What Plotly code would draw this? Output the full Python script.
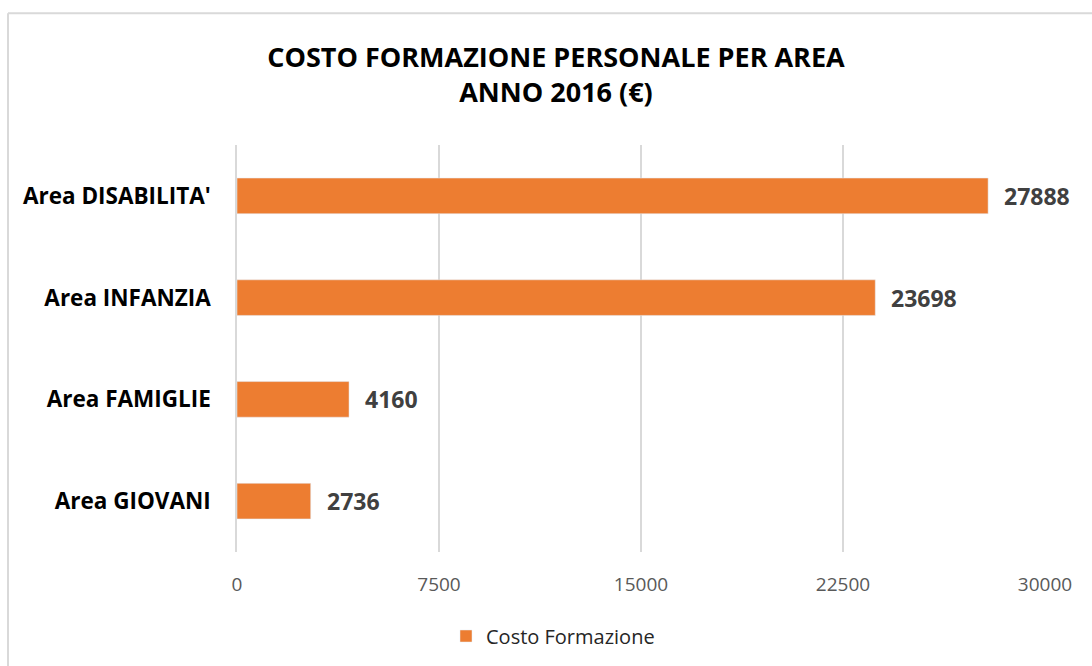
import plotly.graph_objects as go

categories = ["Area DISABILITA'", "Area INFANZIA", "Area FAMIGLIE", "Area GIOVANI"]
values = [27888, 23698, 4160, 2736]
tick_vals = [0, 7500, 15000, 22500, 30000]
tick_text = ["0", "7500", "15000", "22500", "30000"]
series_name = "Costo Formazione"

ML, MR, MT, MB = 237, 47, 145, 113
W, H = 1092, 666
pw, ph = W - ML - MR, H - MT - MB

fig = go.Figure()
fig.add_trace(go.Bar(
    y=categories, x=values, orientation="h", name=series_name,
    marker=dict(color="#ED7D31"), width=0.35, showlegend=True,
))
for c, v in zip(categories, values):
    fig.add_annotation(x=v, y=c, text=f"<b>{v}</b>", showarrow=False,
                       xanchor="left", xshift=14,
                       font=dict(family="Open Sans", size=23, color="#404040"))

fig.update_layout(
    width=W, height=H,
    margin=dict(l=ML, r=MR, t=MT, b=MB),
    paper_bgcolor="white", plot_bgcolor="white",
    title=dict(text="<b>COSTO FORMAZIONE PERSONALE PER AREA<br>ANNO 2016 (€)</b>",
               x=556 / W, xref="container", xanchor="center",
               y=1 - 67 / H, yref="container", yanchor="middle",
               font=dict(family="Open Sans", size=27, color="black")),
    xaxis=dict(range=[0, 30000], tickvals=tick_vals, ticktext=tick_text, showgrid=True,
               gridcolor="#d9d9d9", gridwidth=1.5, zeroline=False,
               ticklabelstandoff=19,
               tickfont=dict(family="Open Sans", size=19, color="#595959")),
    yaxis=dict(categoryorder="array", categoryarray=categories[::-1],
               showgrid=False, zeroline=False, showline=True, linecolor="#d9d9d9", linewidth=1.5,
               ticklabelstandoff=20,
               tickfont=dict(family="Open Sans", size=22.5, color="black", weight="bold")),
    legend=dict(orientation="h", x=(553 - ML) / pw, xanchor="center",
                y=-(636 - (H - MB)) / ph, yanchor="middle",
                font=dict(family="Open Sans", size=20, color="#262626")),
    shapes=[dict(type="line", xref="paper", yref="paper",
                 x0=(8 - ML) / pw, x1=1.2, y0=(H - MB - 13) / ph, y1=(H - MB - 13) / ph,
                 line=dict(color="#d9d9d9", width=2)),
            dict(type="line", xref="paper", yref="paper",
                 x0=(8 - ML) / pw, x1=(8 - ML) / pw, y0=(H - MB - 13) / ph, y1=-0.5,
                 line=dict(color="#d9d9d9", width=2))],
)
fig.write_html("out.html", config={"displayModeBar": False},
               post_script="document.body.style.margin='0';")
